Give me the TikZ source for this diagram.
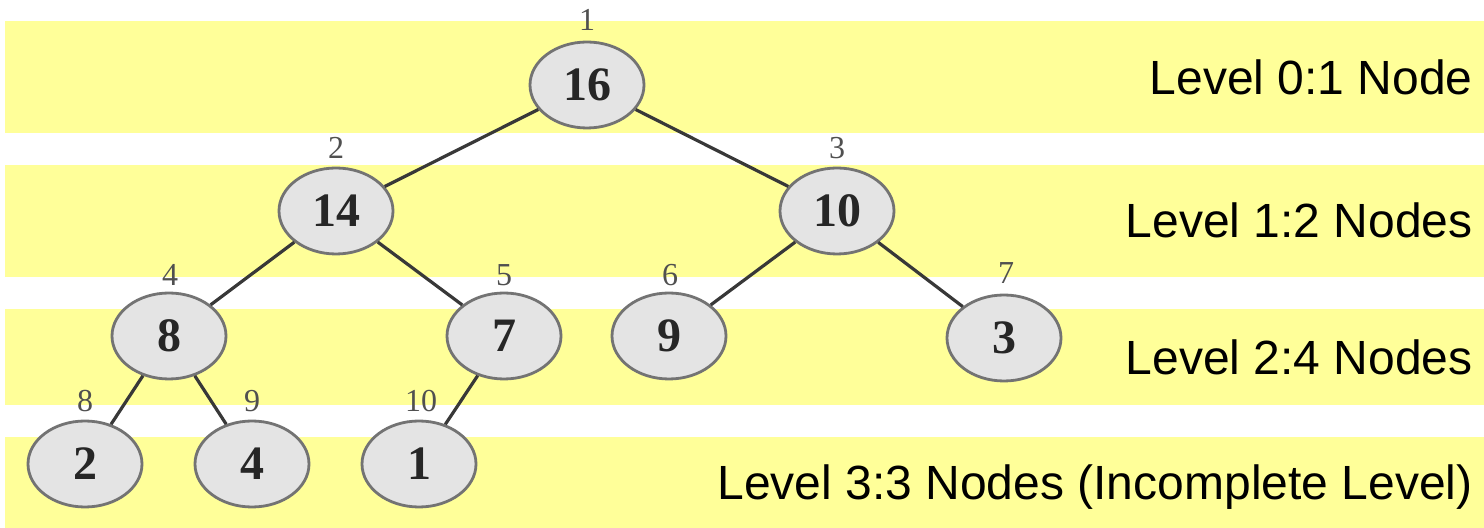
\documentclass[tikz,border=0pt]{standalone}
\usepackage{fontspec}
\newfontfamily\treefont{Liberation Serif}
\newfontfamily\lvlfont{Liberation Sans}
\usetikzlibrary{shapes.geometric}
\definecolor{band}{RGB}{255,255,153}
\definecolor{nodefill}{RGB}{228,228,228}
\definecolor{nodeedge}{RGB}{115,115,115}
\definecolor{edgecol}{RGB}{56,56,56}
\definecolor{idxcol}{RGB}{80,80,80}
\tikzset{
  hnode/.style={ellipse, draw=nodeedge, line width=1.4pt, fill=nodefill,
    minimum width=57pt, minimum height=43pt, inner sep=0pt,
    font=\treefont\bfseries\fontsize{24}{24}\selectfont, text=black!85},
  idx/.style={text=idxcol, inner sep=0pt, font=\treefont\fontsize{16}{16}\selectfont},
  lvl/.style={anchor=base east, inner sep=0pt, font=\lvlfont\fontsize{24}{24}\selectfont},
  bandbox/.style={fill=band, draw=none},
  link/.style={draw=edgecol, line width=1.6pt}
}
\begin{document}
\begin{tikzpicture}[x=0.5pt,y=-0.5pt]
\useasboundingbox (0,0) rectangle (1484,528);
% bands
\path[bandbox] (5,21) rectangle (1484,133);
\path[bandbox] (5,165) rectangle (1484,277);
\path[bandbox] (5,309) rectangle (1484,405);
\path[bandbox] (5,437) rectangle (1484,528);
% nodes
\node[hnode] (n1) at (587,85) {16};
\node[hnode] (n2) at (336,211) {14};
\node[hnode] (n3) at (837,211) {10};
\node[hnode] (n4) at (169,336) {8};
\node[hnode] (n5) at (504,336) {7};
\node[hnode] (n6) at (669,336) {9};
\node[hnode] (n7) at (1004,338) {3};
\node[hnode] (n8) at (85,464) {2};
\node[hnode] (n9) at (252,464) {4};
\node[hnode] (n10) at (419,464) {1};
% index labels
\node[idx] (i1) at (587,20) {1};
\node[idx] (i2) at (336,148) {2};
\node[idx] (i3) at (837,148) {3};
\node[idx] (i4) at (170,275) {4};
\node[idx] (i5) at (504,275) {5};
\node[idx] (i6) at (670,275) {6};
\node[idx] (i7) at (1006,273) {7};
\node[idx] (i8) at (85,401) {8};
\node[idx] (i9) at (252,401) {9};
\node[idx] (i10) at (421,401) {10};
% edges
\draw[link] (n1) -- (n2);
\draw[link] (n1) -- (n3);
\draw[link] (n2) -- (n4);
\draw[link] (n2) -- (n5);
\draw[link] (n3) -- (n6);
\draw[link] (n3) -- (n7);
\draw[link] (n4) -- (n8);
\draw[link] (n4) -- (n9);
\draw[link] (n5) -- (n10);
% level texts
\node[lvl] (l0) at (1473,95) {Level 0:1 Node};
\node[lvl] (l1) at (1473,238) {Level 1:2 Nodes};
\node[lvl] (l2) at (1473,375) {Level 2:4 Nodes};
\node[lvl] (l3) at (1473,500) {Level 3:3 Nodes (Incomplete Level)};
\end{tikzpicture}
\end{document}
